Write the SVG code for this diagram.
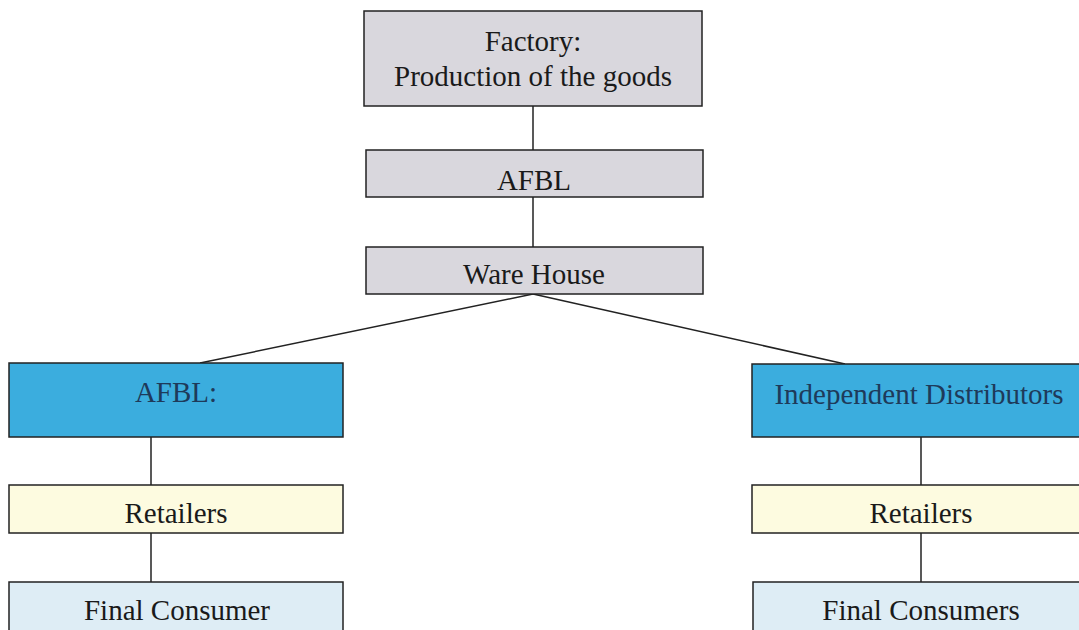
<svg xmlns="http://www.w3.org/2000/svg" width="1079" height="630" viewBox="0 0 1079 630">
<style>
.box{stroke:#222;stroke-width:1.5}
.gray{fill:#d9d7dd}
.blue{fill:#3badde}
.yellow{fill:#fdfbe0}
.lblue{fill:#deedf5}
.t{font-family:"Liberation Serif","Times New Roman",serif;font-size:29px;fill:#1a1a1a;text-anchor:middle}
.tb{fill:#1e3a5a}
.conn{stroke:#222;stroke-width:1.5;fill:none}
</style>
<rect width="1079" height="630" fill="#fff"/>
<g id="connectors">
<line class="conn" x1="533" y1="106" x2="533" y2="150"/>
<line class="conn" x1="533" y1="197" x2="533" y2="247"/>
<line class="conn" x1="533" y1="294" x2="200" y2="363"/>
<line class="conn" x1="533" y1="294" x2="845" y2="364"/>
<line class="conn" x1="151" y1="437" x2="151" y2="485"/>
<line class="conn" x1="151" y1="533" x2="151" y2="582"/>
<line class="conn" x1="921" y1="437" x2="921" y2="485"/>
<line class="conn" x1="921" y1="533" x2="921" y2="582"/>
</g>
<g id="factory">
<rect class="box gray" x="364" y="11" width="338" height="95"/>
<text class="t" x="533" y="51">Factory:</text>
<text class="t" x="533" y="86">Production of the goods</text>
</g>
<g id="afbl-top">
<rect class="box gray" x="366" y="150" width="337" height="47"/>
<text class="t" x="534" y="190">AFBL</text>
</g>
<g id="warehouse">
<rect class="box gray" x="366" y="247" width="337" height="47"/>
<text class="t" x="534" y="284">Ware House</text>
</g>
<g id="afbl-left">
<rect class="box blue" x="9" y="363" width="334" height="74"/>
<text class="t tb" x="176" y="402">AFBL:</text>
</g>
<g id="retailers-left">
<rect class="box yellow" x="9" y="485" width="334" height="48"/>
<text class="t" x="176" y="523">Retailers</text>
</g>
<g id="consumer-left">
<rect class="box lblue" x="9" y="582" width="334" height="60"/>
<text class="t" x="177" y="620">Final Consumer</text>
</g>
<g id="distributors">
<rect class="box blue" x="752" y="364" width="340" height="73"/>
<text class="t tb" x="919" y="404">Independent Distributors</text>
</g>
<g id="retailers-right">
<rect class="box yellow" x="752" y="485" width="340" height="48"/>
<text class="t" x="921" y="523">Retailers</text>
</g>
<g id="consumers-right">
<rect class="box lblue" x="753" y="582" width="340" height="60"/>
<text class="t" x="921" y="620">Final Consumers</text>
</g>
</svg>
